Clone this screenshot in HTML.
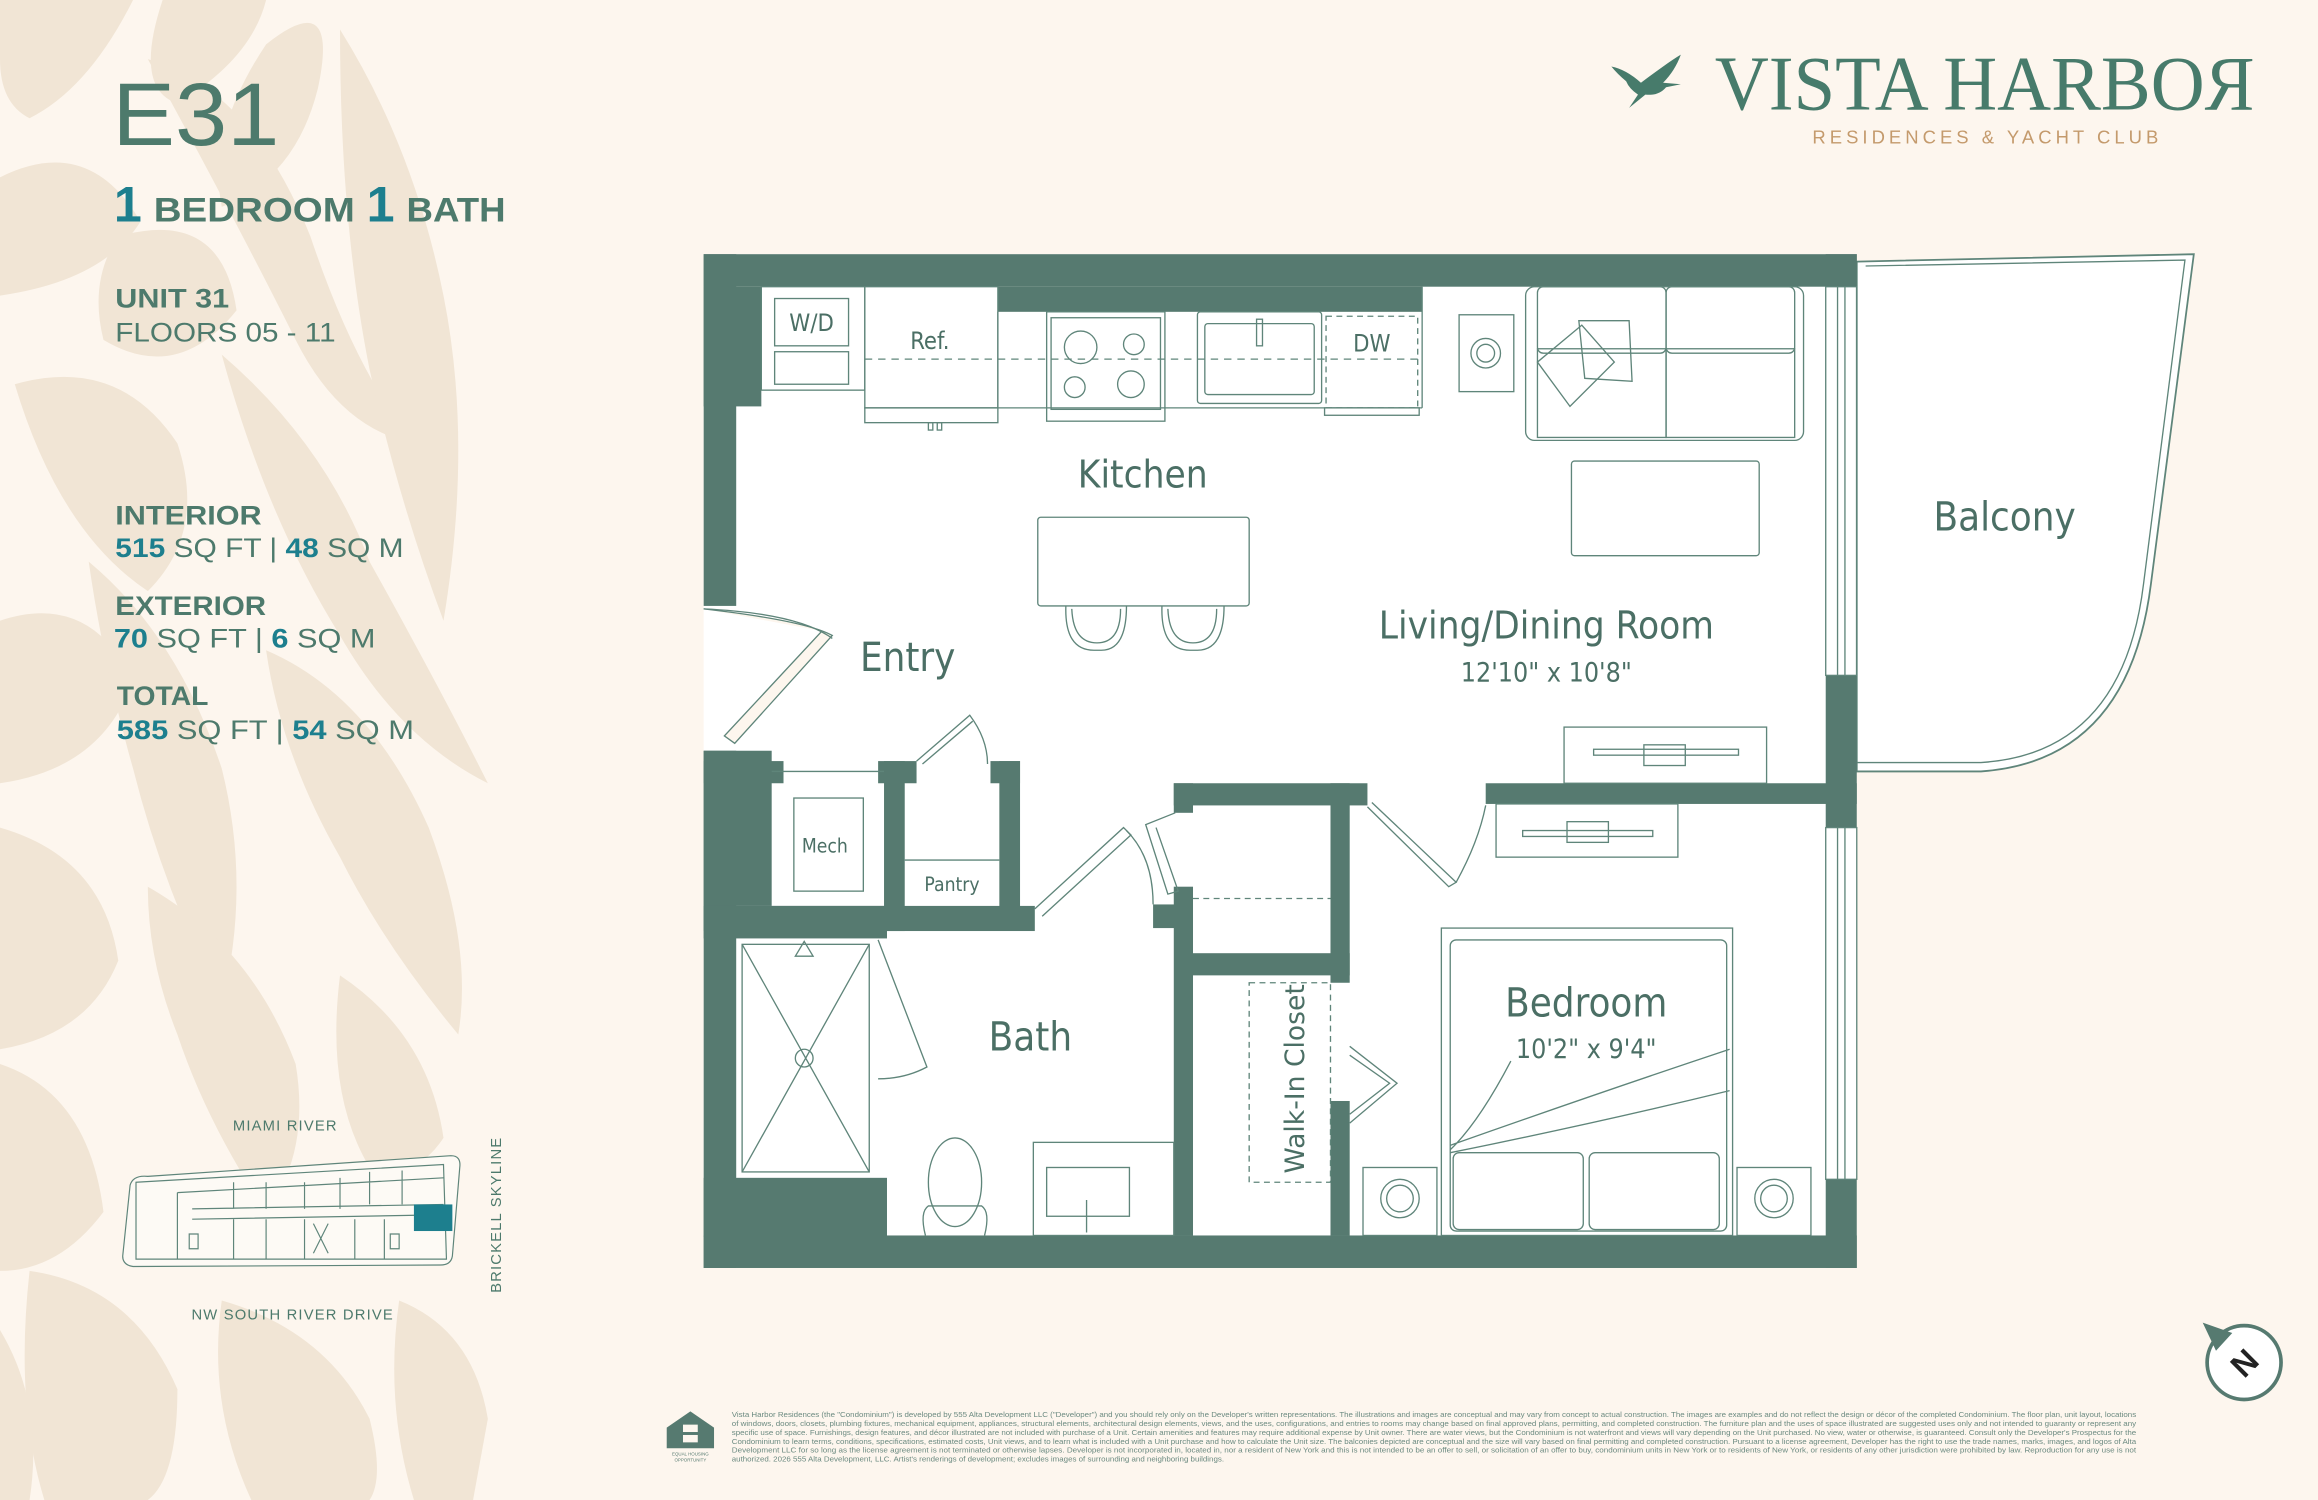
<!DOCTYPE html>
<html><head><meta charset="utf-8"><style>
html,body{margin:0;padding:0;background:#fdf6ee;}
svg{display:block;}
</style></head><body>
<svg width="2318" height="1500" viewBox="0 0 1568 1015" preserveAspectRatio="none" xmlns="http://www.w3.org/2000/svg" font-family="Liberation Sans, DejaVu Sans, sans-serif">
<rect width="1568" height="1015" fill="#fdf6ee"/>
<!-- leaves -->
<g fill="#f1e5d5">
<path d="M0 0 L90 0 Q60 60 20 80 Q0 70 0 40Z"/>
<path d="M110 0 L180 0 Q170 40 120 70 Q90 60 110 0Z"/>
<path d="M180 30 Q230 -10 215 60 Q200 120 150 140 Q140 90 180 30Z"/>
<path d="M0 120 Q60 90 95 150 Q70 190 0 200Z"/>
<path d="M80 160 Q150 140 160 210 Q120 260 70 230 Q60 190 80 160Z"/>
<path d="M100 40 Q170 60 210 160 Q240 250 280 300 Q230 290 200 230 Q160 150 100 40Z"/>
<path d="M230 20 Q280 100 300 200 Q320 300 300 420 Q270 340 250 250 Q230 150 230 20Z"/>
<path d="M10 260 Q80 240 120 300 Q140 360 100 400 Q40 360 10 260Z"/>
<path d="M150 240 Q220 300 250 380 Q300 470 330 530 Q270 500 230 430 Q180 350 150 240Z"/>
<path d="M0 420 Q60 400 90 460 Q70 520 0 530Z"/>
<path d="M60 380 Q120 430 150 520 Q170 600 150 680 Q110 600 90 520 Q70 450 60 380Z"/>
<path d="M180 440 Q250 470 290 560 Q320 640 310 700 Q260 640 230 580 Q190 510 180 440Z"/>
<path d="M0 560 Q70 580 80 650 Q60 700 0 710Z"/>
<path d="M100 600 Q170 640 200 720 Q210 780 180 820 Q140 760 120 700 Q100 650 100 600Z"/>
<path d="M230 660 Q290 700 300 770 Q280 800 250 790 Q220 740 230 660Z"/>
<path d="M0 720 Q60 740 70 820 Q40 860 0 860Z"/>
<path d="M20 860 Q90 870 120 940 Q120 1000 100 1015 L30 1015 Q10 950 20 860Z"/>
<path d="M150 880 Q220 900 250 960 Q260 1000 250 1015 L170 1015 Q140 950 150 880Z"/>
<path d="M270 880 Q320 900 330 960 L320 1015 L280 1015 Q260 950 270 880Z"/>
<path d="M0 900 Q30 950 20 1015 L0 1015Z"/>
</g>
<!-- left text -->
<g fill="#4d7a6c">
<text x="76" y="98" font-size="60" font-weight="300" textLength="113" lengthAdjust="spacingAndGlyphs" fill="#4d7a6c">E31</text>
<text x="77" y="150" font-size="34" font-weight="bold" fill="#1d7f8e">1</text>
<text x="104" y="150" font-size="23" font-weight="bold" textLength="136" lengthAdjust="spacingAndGlyphs">BEDROOM</text>
<text x="248" y="150" font-size="34" font-weight="bold" fill="#1d7f8e">1</text>
<text x="275" y="150" font-size="23" font-weight="bold" textLength="67" lengthAdjust="spacingAndGlyphs">BATH</text>
<text x="78" y="208" font-size="18" font-weight="bold" textLength="77" lengthAdjust="spacingAndGlyphs">UNIT 31</text>
<text x="78" y="231" font-size="18" textLength="149" lengthAdjust="spacingAndGlyphs">FLOORS 05 - 11</text>
<text x="78" y="355" font-size="18" font-weight="bold" textLength="99" lengthAdjust="spacingAndGlyphs">INTERIOR</text>
<text x="78" y="377" font-size="18" textLength="195" lengthAdjust="spacingAndGlyphs"><tspan fill="#1d7f8e" font-weight="bold">515</tspan> SQ FT | <tspan fill="#1d7f8e" font-weight="bold">48</tspan> SQ M</text>
<text x="78" y="416" font-size="18" font-weight="bold" textLength="102" lengthAdjust="spacingAndGlyphs">EXTERIOR</text>
<text x="77" y="438" font-size="18" textLength="177" lengthAdjust="spacingAndGlyphs"><tspan fill="#1d7f8e" font-weight="bold">70</tspan> SQ FT | <tspan fill="#1d7f8e" font-weight="bold">6</tspan> SQ M</text>
<text x="79" y="477" font-size="18" font-weight="bold" textLength="62" lengthAdjust="spacingAndGlyphs">TOTAL</text>
<text x="79" y="500" font-size="18" textLength="201" lengthAdjust="spacingAndGlyphs"><tspan fill="#1d7f8e" font-weight="bold">585</tspan> SQ FT | <tspan fill="#1d7f8e" font-weight="bold">54</tspan> SQ M</text>
</g>
<!-- logo -->
<g fill="#477b6b">
<path d="M1090 45 Q1100 47 1110 56 Q1118 50 1125 45 Q1132 40 1137 37 Q1133 48 1125 56 L1137 57 L1127 59 Q1122 65 1113 64 L1102 73 L1108 64 Q1102 60 1100 55 Q1094 50 1090 45Z"/>
<text x="1160" y="74" font-family="Liberation Serif, serif" font-size="52" textLength="365" lengthAdjust="spacingAndGlyphs">VISTA HARBOЯ</text>
<text x="1226" y="97" font-size="12.5" fill="#c49a6c" textLength="234" lengthAdjust="spacing">RESIDENCES &amp; YACHT CLUB</text>
</g>
<!-- floor plan -->
<g stroke="#5f857a" stroke-width="0.9" fill="none">
<rect x="476" y="172" width="780" height="686" fill="#ffffff" stroke="none"/>
<path d="M1256 177 L1484 172 L1455 395 Q1440 515 1340 522 L1256 522 Z" fill="#ffffff" stroke="#5f857a" stroke-width="1.2"/>
<path d="M1262 180 L1478 176 L1450 395 Q1436 510 1340 516 L1256 516" />
<!-- entry door -->
<path d="M476 412 Q545 420 563 430 L497 503 L490 498 L556 427" fill="#fdf6ee"/>
<path d="M476 412 Q540 415 563 432"/>
</g>
<g fill="#567a70">
<rect x="476" y="172" width="780" height="22"/>
<rect x="675" y="194" width="287" height="17"/>
<rect x="476" y="194" width="39" height="81"/>
<rect x="476" y="172" width="22" height="238"/>
<rect x="476" y="508" width="22" height="350"/>
<rect x="476" y="508" width="46" height="105"/>
<rect x="476" y="836" width="780" height="22"/>
<rect x="1235" y="172" width="21" height="22"/>
<rect x="1235" y="457" width="21" height="103"/>
<rect x="1235" y="798" width="21" height="60"/>
<rect x="1005" y="530" width="251" height="14"/>
<rect x="794" y="530" width="131" height="15"/>
<rect x="794" y="530" width="13" height="20"/>
<rect x="900" y="530" width="13" height="135"/>
<rect x="807" y="645" width="106" height="15"/>
<rect x="794" y="600" width="13" height="236"/>
<rect x="780" y="612" width="27" height="16"/>
<rect x="900" y="745" width="13" height="91"/>
<rect x="476" y="515" width="54" height="15"/>
<rect x="594" y="515" width="26" height="15"/>
<rect x="670" y="515" width="20" height="15"/>
<rect x="598" y="515" width="14" height="115"/>
<rect x="676" y="515" width="14" height="113"/>
<rect x="476" y="613" width="224" height="17"/>
<rect x="476" y="613" width="124" height="22"/>
<rect x="476" y="797" width="124" height="40"/>
</g>
<g stroke="#5f857a" stroke-width="0.9" fill="none">
<!-- kitchen counters -->
<rect x="515" y="194" width="70" height="70"/>
<rect x="524" y="202" width="50" height="32"/>
<rect x="524" y="238" width="50" height="22"/>
<rect x="585" y="194" width="90" height="82"/>
<rect x="585" y="276" width="90" height="10"/>
<rect x="628" y="286" width="3" height="5"/><rect x="634" y="286" width="3" height="5"/>
<line x1="675" y1="211" x2="675" y2="276"/>
<rect x="708" y="211" width="80" height="74"/>
<rect x="711" y="215" width="74" height="62"/>
<circle cx="731" cy="235" r="11"/><circle cx="767" cy="233" r="7"/>
<circle cx="727" cy="262" r="7"/><circle cx="765" cy="260" r="9"/>
<line x1="675" y1="276" x2="962" y2="276"/>
<rect x="810" y="211" width="84" height="62" rx="2"/>
<rect x="815" y="219" width="74" height="48" rx="2"/>
<rect x="850" y="216" width="4" height="18"/>
<rect x="897" y="214" width="62" height="62" stroke-dasharray="4 3"/>
<rect x="896" y="276" width="64" height="5"/>
<line x1="585" y1="243" x2="962" y2="243" stroke-dasharray="5 4"/>
<line x1="962" y1="194" x2="962" y2="276"/>
<!-- living -->
<rect x="987" y="213" width="37" height="52"/>
<circle cx="1005" cy="239" r="10"/><circle cx="1005" cy="239" r="6"/>
<rect x="1032" y="194" width="188" height="104" rx="6"/>
<rect x="1040" y="194" width="87" height="45" rx="4"/>
<rect x="1127" y="194" width="87" height="45" rx="4"/>
<rect x="1040" y="236" width="87" height="60"/>
<rect x="1127" y="236" width="87" height="60"/>
<path d="M1040 245 L1070 220 L1092 245 L1062 275 Z"/>
<path d="M1068 217 L1102 217 L1104 258 L1072 256 Z"/>
<rect x="1063" y="312" width="127" height="64" rx="2"/>
<rect x="702" y="350" width="143" height="60" rx="2"/>
<path d="M721 410 Q720 440 740 440 L745 440 Q762 440 762 410"/>
<path d="M725 412 Q726 435 742 435 Q758 435 758 412"/>
<path d="M786 410 Q785 440 805 440 L810 440 Q828 440 828 410"/>
<path d="M790 412 Q791 435 807 435 Q823 435 823 412"/>
<rect x="1058" y="492" width="137" height="38"/>
<rect x="1078" y="507" width="98" height="4"/>
<rect x="1112" y="504" width="28" height="14"/>
<!-- windows -->
<rect x="1235" y="194" width="21" height="263"/>
<line x1="1243" y1="194" x2="1243" y2="457"/><line x1="1248" y1="194" x2="1248" y2="457"/>
<rect x="1235" y="560" width="21" height="238"/>
<line x1="1243" y1="560" x2="1243" y2="798"/><line x1="1248" y1="560" x2="1248" y2="798"/>
<!-- bedroom -->
<rect x="1012" y="544" width="123" height="36"/>
<rect x="1030" y="562" width="88" height="4"/>
<rect x="1060" y="556" width="28" height="14"/>
<path d="M928 543 L985 597 L980 600 L925 546"/>
<path d="M985 597 Q1000 570 1005 545"/>
<rect x="975" y="628" width="197" height="208"/>
<rect x="981" y="636" width="187" height="197" rx="4"/>
<path d="M981 775 Q1080 740 1170 710 M981 780 Q1080 760 1170 738 M1022 718 Q1000 760 981 778"/>
<rect x="983" y="780" width="88" height="52" rx="4"/>
<rect x="1075" y="780" width="88" height="52" rx="4"/>
<rect x="922" y="790" width="50" height="46"/>
<circle cx="947" cy="811" r="13"/><circle cx="947" cy="811" r="9"/>
<rect x="1175" y="790" width="50" height="46"/>
<circle cx="1200" cy="811" r="13"/><circle cx="1200" cy="811" r="9"/>
<!-- closet -->
<rect x="845" y="665" width="55" height="135" stroke-dasharray="4 3"/>
<line x1="807" y1="608" x2="900" y2="608" stroke-dasharray="4 3"/>
<path d="M913 708 L945 733 L913 760 M913 714 L940 733 L913 754"/>
<path d="M795 550 L775 558 L790 605 L797 603 L782 560"/>
<!-- mech/pantry -->
<rect x="537" y="540" width="47" height="63"/>
<line x1="522" y1="522" x2="598" y2="522"/>
<line x1="612" y1="582" x2="676" y2="582"/>
<path d="M620 515 L656 484 Q668 500 668 517"/>
<path d="M624 517 L658 488"/>
<!-- bath -->
<path d="M700 615 L760 560 L765 565 L705 620"/>
<path d="M762 562 Q780 580 780 612"/>
<rect x="502" y="639" width="86" height="154"/>
<path d="M502 639 L588 793 M588 639 L502 793"/>
<circle cx="544" cy="716" r="6"/>
<path d="M538 647 L544 637 L550 647 Z"/>
<path d="M594 636 L627 722 Q612 730 594 730"/>
<ellipse cx="646" cy="800" rx="18" ry="30"/>
<path d="M626 836 Q622 820 628 816 L664 816 Q670 820 666 836"/>
<rect x="699" y="773" width="95" height="63"/>
<rect x="708" y="790" width="56" height="33"/>
<line x1="735" y1="812" x2="735" y2="834"/>
</g>
<!-- room labels -->
<g fill="#4b6f65" font-family="DejaVu Sans Condensed, DejaVu Sans, sans-serif" text-anchor="middle">
<text x="773" y="330" font-size="26">Kitchen</text>
<text x="614" y="454" font-size="27">Entry</text>
<text x="1046" y="432" font-size="26">Living/Dining Room</text>
<text x="1046" y="461" font-size="18">12'10" x 10'8"</text>
<text x="1356" y="359" font-size="27">Balcony</text>
<text x="697" y="711" font-size="27">Bath</text>
<text x="1073" y="688" font-size="27">Bedroom</text>
<text x="1073" y="716" font-size="18">10'2" x 9'4"</text>
<text x="558" y="577" font-size="13">Mech</text>
<text x="644" y="603" font-size="13">Pantry</text>
<text x="549" y="224" font-size="16">W/D</text>
<text x="629" y="236" font-size="16">Ref.</text>
<text x="928" y="238" font-size="16">DW</text>
<text transform="translate(882 730) rotate(-90)" font-size="18" font-family="DejaVu Sans, sans-serif">Walk-In Closet</text>
</g>
<!-- site map -->
<g fill="#4d7a6c" font-size="10" text-anchor="middle">
<text x="193" y="765" letter-spacing="0.8">MIAMI RIVER</text>
<text x="198" y="893" letter-spacing="0.8">NW SOUTH RIVER DRIVE</text>
<text transform="translate(339 822) rotate(-90)" letter-spacing="0.8">BRICKELL SKYLINE</text>
</g>
<g stroke="#5f857a" stroke-width="0.8" fill="#fdfaf5">
<path d="M88 802 Q90 795 100 796 L305 782 Q312 782 311 790 L306 850 Q305 856 298 856 L90 857 Q83 856 83 850 Z"/>
<path d="M92 800 L300 788 L302 852 L92 852 Z" fill="none"/>
<path d="M120 807 L300 797 M120 807 L120 852 M130 818 L300 815 M130 825 L300 822 M158 800 L158 818 M180 800 L180 818 M206 800 L206 818 M230 797 L230 818 M250 793 L250 815 M272 792 L272 815 M158 825 L158 852 M180 825 L180 852 M206 825 L206 852 M240 825 L240 852 M260 825 L260 852 M212 828 L222 848 M222 828 L212 848 M128 835 L134 835 L134 845 L128 845Z M264 835 L270 835 L270 845 L264 845Z"/>
</g>
<rect x="280" y="815" width="26" height="18" fill="#1d7f8e"/>
<!-- compass -->
<circle cx="1518" cy="922" r="25" fill="#fff" stroke="#567a70" stroke-width="2.5"/>
<path d="M1490 895 L1510 902 L1499 914 Z" fill="#567a70"/>
<text x="1518" y="930" font-size="22" font-weight="bold" text-anchor="middle" transform="rotate(-45 1518 922)" fill="#222">N</text>
<!-- EHO -->
<g fill="#567a70">
<path d="M451 966 L467 955 L483 966 L483 980 L451 980 Z"/>
<rect x="462" y="964" width="10" height="5" fill="#fdf6ee"/>
<rect x="462" y="971" width="10" height="5" fill="#fdf6ee"/>
<text x="467" y="985" font-size="3" text-anchor="middle">EQUAL HOUSING</text>
<text x="467" y="989" font-size="3" text-anchor="middle">OPPORTUNITY</text>
</g>
<g fill="#6b8a80" font-size="5" font-family="Liberation Sans Narrow, Liberation Sans, sans-serif">
<text x="495" y="959" textLength="950" lengthAdjust="spacingAndGlyphs">Vista Harbor Residences (the "Condominium") is developed by 555 Alta Development LLC ("Developer") and you should rely only on the Developer's written representations. The illustrations and images are conceptual and may vary from concept to actual construction. The images are examples and do not reflect the design or décor of the completed Condominium. The floor plan, unit layout, locations</text>
<text x="495" y="965" textLength="950" lengthAdjust="spacingAndGlyphs">of windows, doors, closets, plumbing fixtures, mechanical equipment, appliances, structural elements, architectural design elements, views, and the uses, configurations, and entries to rooms may change based on final approved plans, permitting, and completed construction. The furniture plan and the uses of space illustrated are suggested uses only and not intended to guaranty or represent any</text>
<text x="495" y="971" textLength="950" lengthAdjust="spacingAndGlyphs">specific use of space. Furnishings, design features, and décor illustrated are not included with purchase of a Unit. Certain amenities and features may require additional expense by Unit owner. There are water views, but the Condominium is not waterfront and views will vary depending on the Unit purchased. No view, water or otherwise, is guaranteed. Consult only the Developer's Prospectus for the</text>
<text x="495" y="977" textLength="950" lengthAdjust="spacingAndGlyphs">Condominium to learn terms, conditions, specifications, estimated costs, Unit views, and to learn what is included with a Unit purchase and how to calculate the Unit size. The balconies depicted are conceptual and the size will vary based on final permitting and completed construction. Pursuant to a license agreement, Developer has the right to use the trade names, marks, images, and logos of Alta</text>
<text x="495" y="983" textLength="950" lengthAdjust="spacingAndGlyphs">Development LLC for so long as the license agreement is not terminated or otherwise lapses. Developer is not incorporated in, located in, nor a resident of New York and this is not intended to be an offer to sell, or solicitation of an offer to buy, condominium units in New York or to residents of New York, or residents of any other jurisdiction were prohibited by law. Reproduction for any use is not</text>
<text x="495" y="989" textLength="333" lengthAdjust="spacingAndGlyphs">authorized. 2026 555 Alta Development, LLC. Artist's renderings of development; excludes images of surrounding and neighboring buildings.</text>
</g>
</svg>
</body></html>
